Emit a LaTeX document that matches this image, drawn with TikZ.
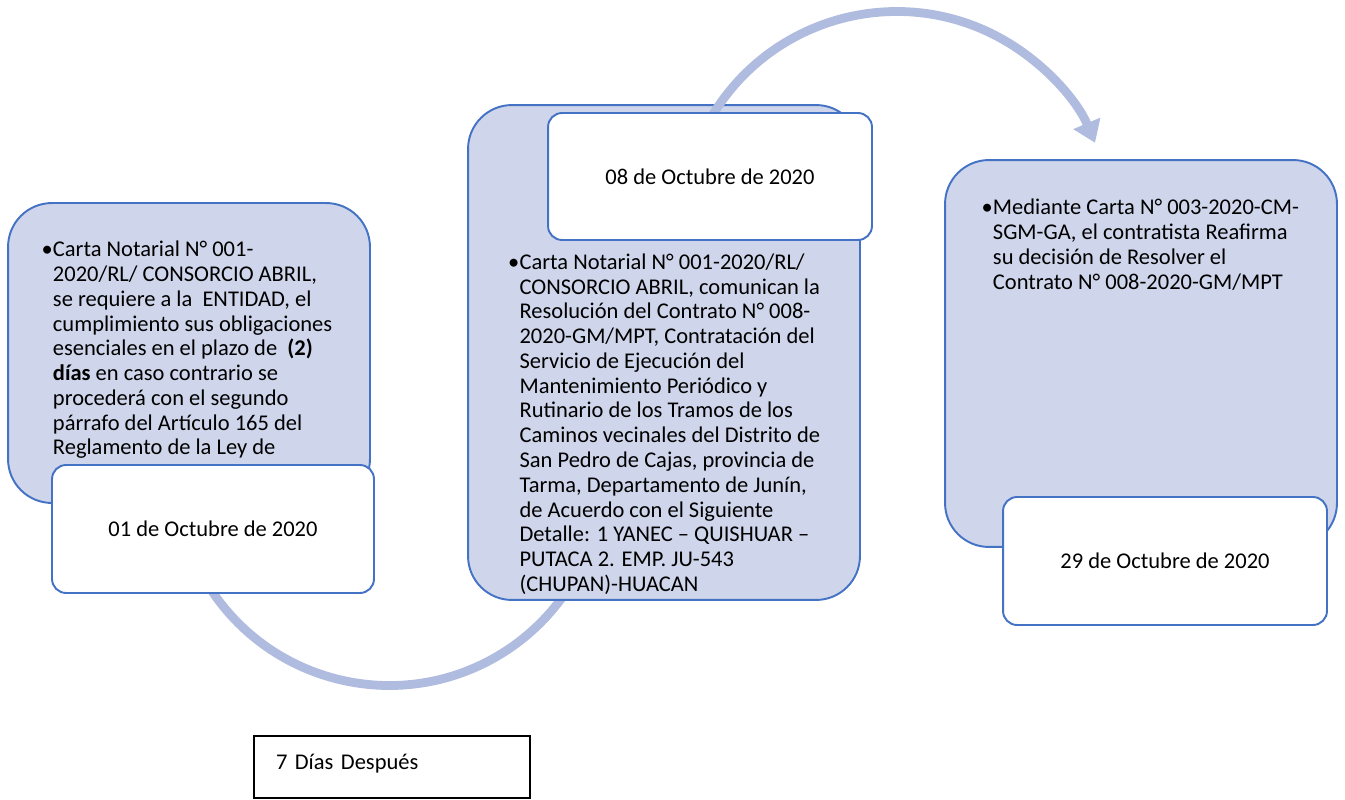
\documentclass[tikz,border=0pt]{standalone}
\usepackage{fontspec}
\setmainfont{Carlito}
\usepackage {tikz}
\usetikzlibrary {positioning}
\usetikzlibrary{calc}
\usetikzlibrary{arrows.meta}
\definecolor{evline}{HTML}{4472C4}
\definecolor{evfill}{HTML}{CFD5EA}
\definecolor{flowcol}{RGB}{175,188,223}
\newcommand{\evfont}{\fontsize{12.8pt}{14.1pt}\selectfont}
\newcommand{\evlist}[1]{\begin{tabular}[t]{@{}p{6.5pt}@{}l@{}}\textbullet & #1\end{tabular}}
\tikzset{
    event/.style = {rectangle,draw=evline,fill=evfill,line width=1.1pt,rounded corners=25pt,inner sep=0pt},
    datebox/.style = {rectangle,draw=evline,fill=white,line width=1.1pt,rounded corners=8pt,inner sep=0pt,font=\evfont},
    plainbox/.style = {rectangle,draw=black,line width=0.8pt,inner ysep=0pt,inner xsep=0.44cm,align=left,font=\evfont},
    evtext/.style = {inner sep=0pt,anchor=base west,font=\evfont},
    flow/.style = {draw=flowcol,line width=5pt}}
\begin{document}
\begin{tikzpicture}[x=0.02cm,y=-0.02cm]
    \useasboundingbox (0,0) rectangle (1345,800);
    \coordinate (lowstart) at (208,585);
    \coordinate (topstart) at (712,116);
    \draw[flow] (lowstart) arc[start angle=212,end angle=330,radius=4.276cm];
    \node[event,minimum width=7.24cm,minimum height=6cm] (evA) at (189,353) {};
    \node[evtext] (txtA) at (41.2,256.7) {\evlist{Carta Notarial N° 001-\\
        & 2020/RL/ CONSORCIO ABRIL,\\
        & se requiere a la~ ENTIDAD, el\\
        & cumplimiento sus obligaciones\\
        & esenciales en el plazo de~ \textbf{(2)}\\
        & \textbf{días} en caso contrario se\\
        & procederá con el segundo\\
        & párrafo del Artículo 165 del\\
        & Reglamento de la Ley de}};
    \node[datebox,minimum width=6.44cm,minimum height=2.56cm] (dateA) at (213,529) {01 de Octubre de 2020};
    \node[event,minimum width=7.84cm,minimum height=9.9cm] (evB) at (664,352.5) {};
    \node[evtext] (txtB) at (507.8,269.3) {\evlist{Carta Notarial N° 001-2020/RL/\\
        & CONSORCIO ABRIL, comunican la\\
        & Resolución del Contrato N° 008-\\
        & 2020-GM/MPT, Contratación del\\
        & Servicio de Ejecución del\\
        & Mantenimiento Periódico y\\
        & Rutinario de los Tramos de los\\
        & Caminos vecinales del Distrito de\\
        & San Pedro de Cajas, provincia de\\
        & Tarma, Departamento de Junín,\\
        & de Acuerdo con el Siguiente\\
        & Detalle: 1 YANEC – QUISHUAR –\\
        & PUTACA 2. EMP. JU-543\\
        & (CHUPAN)-HUACAN}};
    \draw[flow,-{Triangle[length=12pt,width=16pt]}] (topstart) arc[start angle=149,end angle=23,radius=4.31cm];
    \node[datebox,minimum width=6.48cm,minimum height=2.54cm] (dateB) at (710,176.5) {08 de Octubre de 2020};
    \node[event,minimum width=7.84cm,minimum height=7.74cm] (evC) at (1141,353.5) {};
    \node[evtext] (txtC) at (981.2,215) {\evlist{Mediante Carta N° 003-2020-CM-\\
        & SGM-GA, el contratista Reafirma\\
        & su decisión de Resolver el\\
        & Contrato N° 008-2020-GM/MPT}};
    \node[datebox,minimum width=6.48cm,minimum height=2.56cm] (dateC) at (1165,561) {29 de Octubre de 2020};
    \node[plainbox,text width=4.64cm,minimum height=1.24cm] (after) at (392,767) {\raisebox{5.6pt}{7 Días Después}};
\end{tikzpicture}
\end{document}
